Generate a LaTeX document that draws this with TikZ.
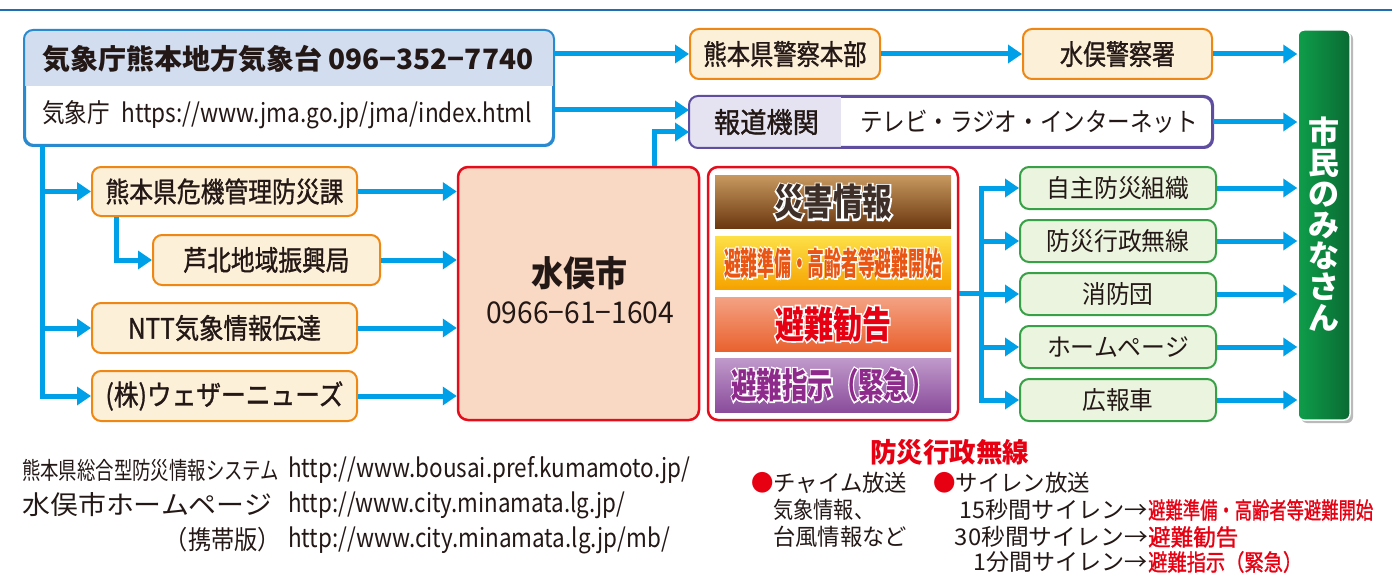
\documentclass[tikz,border=0pt]{standalone}
\usepackage{graphicx}
\usepackage{fontspec}
\setmainfont{Noto Sans CJK JP}
\newfontfamily\jpm{Noto Sans CJK JP}[FakeBold=1.2]
\newfontfamily\jpo{Noto Sans CJK JP}[FakeBold=9]
\usetikzlibrary{arrows.meta,shadows,calc}
\newcommand\fw[2]{\resizebox{#1pt}{\height}{#2}}
\newcommand\fs[1]{\fontsize{#1}{#1}\selectfont}
\definecolor{arrowc}{HTML}{00A0E9}
\definecolor{topl}{HTML}{1F6EB4}
\definecolor{jmab}{HTML}{2A8AD0}
\definecolor{jmah}{HTML}{D3DDF0}
\definecolor{orb}{HTML}{EE8713}
\definecolor{orf}{HTML}{FDF0D9}
\definecolor{pub}{HTML}{5F4EA0}
\definecolor{puf}{HTML}{E5E3F2}
\definecolor{redb}{HTML}{E50D1B}
\definecolor{pinkf}{HTML}{F9D8C4}
\definecolor{grb}{HTML}{38A046}
\definecolor{grf}{HTML}{EBF4DE}
\definecolor{shl}{HTML}{0E9E4A}
\definecolor{shr}{HTML}{0A6A33}
\definecolor{txt}{HTML}{231815}
\definecolor{jred}{HTML}{E60012}
\definecolor{bat}{HTML}{C8995F}\definecolor{bab}{HTML}{6B3810}
\definecolor{bbt}{HTML}{FDE047}\definecolor{bbb}{HTML}{F5A300}
\definecolor{bct}{HTML}{F4A283}\definecolor{bcb}{HTML}{E9622F}
\definecolor{bdt}{HTML}{C09ACB}\definecolor{bdb}{HTML}{8A4C9B}
\definecolor{taf}{HTML}{3E3029}
\definecolor{tbf}{HTML}{E95513}
\definecolor{tdf}{HTML}{8E2A8C}
\newcommand\otext[6]{%
  \node[text=#3, inner sep=0pt] at (#2) {\fw{#5}{\jpo\bfseries #6}};
  \node[text=#4, inner sep=0pt] (#1) at (#2) {\fw{#5}{\bfseries #6}};
}
\begin{document}
\begin{tikzpicture}[x=1pt,y=-1pt,
  sz/.style 2 args={minimum width=#1pt, minimum height=#2pt},
  arr/.style={draw=arrowc, line width=5pt, -{Triangle[length=14pt,width=18pt]}},
  ln/.style={draw=arrowc, line width=5pt},
  obox/.style={draw=orb, fill=orf, line width=2pt, rounded corners=9pt, inner sep=0pt, text=txt, font=\jpm},
  gbox/.style={draw=grb, fill=grf, line width=2pt, rounded corners=9pt, inner sep=0pt, text=txt, sz={196}{42}},
  band/.style={inner sep=0pt, sz={236}{53}},
  plain/.style={inner sep=0pt, text=txt}]
\useasboundingbox (0,0) rectangle (1392,575);
\draw[topl, line width=2.5pt] (0,10) -- (1392,10);

% JMA box
\node[draw=jmab, fill=white, line width=2pt, rounded corners=9pt, sz={528}{114}] (jma) at (289,88) {};
\begin{scope}
\clip[rounded corners=9pt] (jma.north west) rectangle (jma.south east);
\fill[jmah] (jma.north west) rectangle ([yshift=-56pt]jma.north east);
\end{scope}
\draw[jmab, line width=2pt, rounded corners=9pt] (jma.north west) rectangle (jma.south east);
\node[plain, anchor=west] (jmat1) at (42,59) {\fw{491}{\bfseries\fs{28}気象庁熊本地方気象台 096−352−7740}};
\node[plain, anchor=west] (jmat2) at (42,115) {\fw{490}{\fs{26}気象庁\hspace{0.5em}https://www.jma.go.jp/jma/index.html}};

% police
\node[obox, sz={190}{50}] (kenkei) at (785,54) {\fw{163}{\fs{28}熊本県警察本部}};
\node[obox, sz={189}{50}] (mk) at (1117.5,54) {\fw{115}{\fs{28}水俣警察署}};

% media
\node[draw=pub, fill=white, line width=2pt, rounded corners=9pt, sz={522}{50}] (houdou) at (951,122) {};
\begin{scope}
\clip[rounded corners=9pt] (houdou.north west) rectangle (houdou.south east);
\fill[puf] (houdou.north west) rectangle ([xshift=152pt]houdou.south west);
\end{scope}
\draw[pub, line width=2pt, rounded corners=9pt] (houdou.north west) rectangle (houdou.south east);
\node[plain] (houdout1) at (766.5,122) {\fw{105}{\jpm\fs{28}報道機関}};
\node[plain] (houdout2) at (1029,122) {\fw{338}{\fs{26}テレビ・ラジオ・インターネット}};

% citizens
\node[rounded corners=6pt, draw=white, line width=1.5pt, left color=shl, right color=shr, sz={52}{390},
  drop shadow={shadow xshift=3pt, shadow yshift=-3pt, fill=black!45, opacity=.6}] (shimin) at (1324,225) {};
\node[text=white, align=center, inner sep=0pt, font=\bfseries\fs{31}] (shimint) at (1324,224) {市\\民\\の\\み\\な\\さ\\ん};

% left column
\node[obox, sz={265}{49}] (kiki) at (224.5,191.5) {\fw{238}{\fs{28}熊本県危機管理防災課}};
\node[obox, sz={227}{50}] (ashi) at (266.5,260) {\fw{166}{\fs{28}芦北地域振興局}};
\node[obox, sz={265}{50}] (ntt) at (224.5,328) {\fw{193}{\fs{28}NTT気象情報伝達}};
\node[obox, sz={265}{50}] (wn) at (224.5,396) {\fw{238}{\fs{28}(株)ウェザーニューズ}};

% Minamata city
\node[draw=redb, fill=pinkf, line width=2.5pt, rounded corners=10pt, sz={241}{253}] (minamata) at (578.5,293.5) {};
\node[plain] (mct1) at (579,273) {\fw{96}{\bfseries\fs{35}水俣市}};
\node[plain] (mct2) at (580,313) {\fw{188}{\fs{30}0966−61−1604}};

% warning box
\node[draw=redb, fill=white, line width=2.5pt, rounded corners=10pt, sz={250}{253}] (warn) at (833,293.5) {};
\node[band, top color=bat, bottom color=bab] (ba) at (833,201.5) {};
\node[band, top color=bbt, bottom color=bbb] (bb) at (833,262.5) {};
\node[band, top color=bct, bottom color=bcb, sz={236}{54}] (bc) at (833,324) {};
\node[band, top color=bdt, bottom color=bdb, sz={236}{54}] (bd) at (833,385) {};
\otext{bat}{833,202}{white}{taf}{118}{\fs{37}災害情報}
\otext{bbt}{833,263}{white}{tbf}{218}{\fs{32}避難準備・高齢者等避難開始}
\otext{bct}{833,324}{white}{jred}{116}{\fs{37}避難勧告}
\otext{bdt}{833,385}{white}{tdf}{203}{\fs{35}避難指示（緊急）}

% green boxes
\node[gbox] (g1) at (1118,188) {\fw{143}{\fs{25}自主防災組織}};
\node[gbox] (g2) at (1118,241) {\fw{143}{\fs{25}防災行政無線}};
\node[gbox] (g3) at (1118,294) {\fw{71}{\fs{25}消防団}};
\node[gbox] (g4) at (1118,347) {\fw{142}{\fs{25}ホームページ}};
\node[gbox] (g5) at (1118,400) {\fw{71}{\fs{25}広報車}};

% helper coordinates
\coordinate (lx) at (42,0);
\coordinate (ax) at (116,0);
\coordinate (mx) at (654,0);
\coordinate (vx) at (981,0);

% connectors
\draw[arr] (jma.east |- kenkei.west) -- (kenkei.west);
\draw[arr] (kenkei.east) -- (mk.west);
\draw[arr] (mk.east) -- (mk.east -| shimin.west);
\draw[arr] (jma.east |- 0,110) -- (houdou.west |- 0,110);
\draw[arr] (minamata.north -| mx) |- ([yshift=-10pt]houdou.west);
\draw[arr] (houdou.east) -- (houdou.east -| shimin.west);

\draw[arr] (jma.south -| lx) |- (wn.west);
\draw[arr] (lx |- kiki.west) -- (kiki.west);
\draw[arr] (lx |- ntt.west) -- (ntt.west);
\draw[arr] (kiki.south -| ax) |- (ashi.west);

\draw[arr] (kiki.east) -- (kiki.east -| minamata.west);
\draw[arr] (ashi.east) -- (ashi.east -| minamata.west);
\draw[arr] (ntt.east) -- (ntt.east -| minamata.west);
\draw[arr] (wn.east) -- (wn.east -| minamata.west);

\draw[ln] (warn.east) -- (vx |- warn.east);
\draw[arr] (vx |- warn.east) |- (g1.west);
\draw[arr] (vx |- warn.east) |- (g5.west);
\draw[arr] (vx |- g2.west) -- (g2.west);
\draw[arr] (vx |- g3.west) -- (g3.west);
\draw[arr] (vx |- g4.west) -- (g4.west);
\foreach \g in {g1,g2,g3,g4,g5}{\draw[arr] (\g.east) -- (\g.east -| shimin.west);}

% bottom left texts
\node[plain, anchor=west] (b1a) at (22,470) {\fw{257}{\fs{24}熊本県総合型防災情報システム}};
\node[plain, anchor=west] (b1b) at (288,470) {\fw{402}{\fs{26}http://www.bousai.pref.kumamoto.jp/}};
\node[plain, anchor=west] (b2a) at (22,505) {\fw{250}{\fs{26}水俣市ホームページ}};
\node[plain, anchor=west] (b2b) at (288,505) {\fw{337}{\fs{26}http://www.city.minamata.lg.jp/}};
\node[plain, anchor=east] (b3a) at (281,540) {\fw{116}{\fs{26}（携帯版）}};
\node[plain, anchor=west] (b3b) at (288,540) {\fw{382}{\fs{26}http://www.city.minamata.lg.jp/mb/}};

% bottom right texts
\node[inner sep=0pt, text=jred] (bsw) at (949.5,452) {\fw{159}{\bfseries\fs{27}防災行政無線}};
\node[plain, anchor=west] (c1) at (751,483) {\fw{156}{\fs{23}{\color{jred}●}チャイム放送}};
\node[plain, anchor=west] (c2) at (773,510) {\fw{101}{\fs{23}気象情報、}};
\node[plain, anchor=west] (c3) at (773,537) {\fw{134}{\fs{23}台風情報など}};
\node[plain, anchor=west] (s0) at (933,483) {\fw{157}{\fs{23}{\color{jred}●}サイレン放送}};
\node[plain, anchor=east] (s1a) at (1148,510) {\fw{188}{\fs{23}15秒間サイレン→}};
\node[inner sep=0pt, text=jred, anchor=west] (s1b) at (1148,510) {\fw{225}{\jpm\fs{23}避難準備・高齢者等避難開始}};
\node[plain, anchor=east] (s2a) at (1148,537) {\fw{193}{\fs{23}30秒間サイレン→}};
\node[inner sep=0pt, text=jred, anchor=west] (s2b) at (1148,537) {\fw{90}{\jpm\fs{23}避難勧告}};
\node[plain, anchor=east] (s3a) at (1148,562) {\fw{174}{\fs{23}1分間サイレン→}};
\node[inner sep=0pt, text=jred, anchor=west] (s3b) at (1148,562) {\fw{154}{\jpm\fs{23}避難指示（緊急）}};
\end{tikzpicture}
\end{document}
